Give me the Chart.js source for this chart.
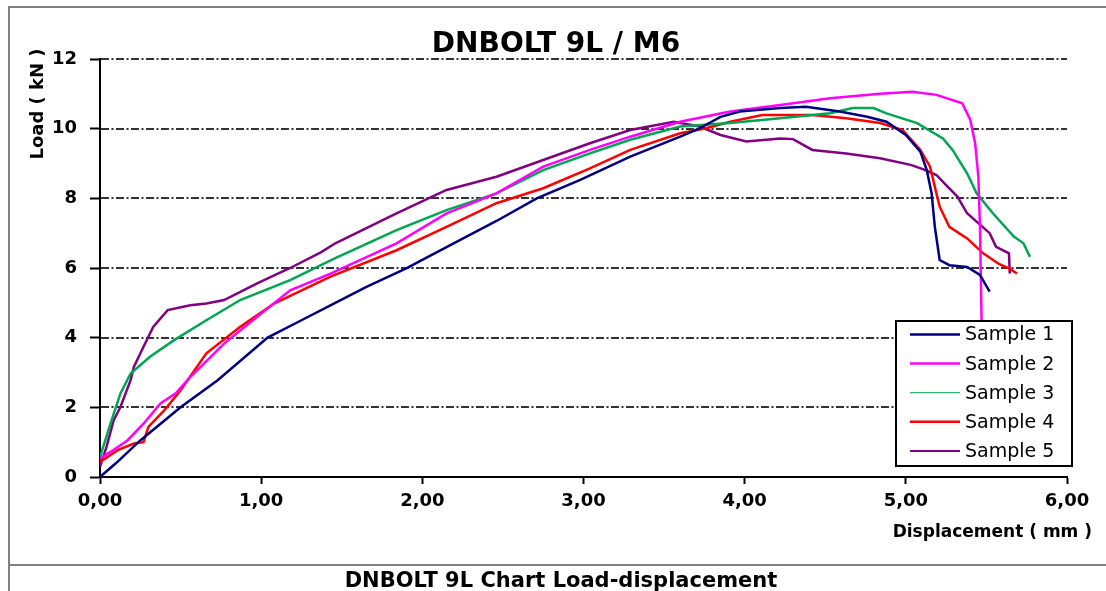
<!DOCTYPE html>
<html>
<head>
<meta charset="utf-8">
<script src="https://cdn.jsdelivr.net/npm/chart.js@4.4.0/dist/chart.umd.min.js"></script>
<style>
  html, body { margin: 0; padding: 0; background: #fff; }
  #wrap { position: relative; width: 1106px; height: 591px; overflow: hidden; }
  .frame { position: absolute; background: #808080; }
  #caption { position: absolute; left: 0; width: 1122px; top: 568px; line-height: 24px;
             text-align: center; font: bold 21px "DejaVu Sans"; color: #000; }
  canvas { position: absolute; left: 0; top: 0; }
</style>
</head>
<body>
<div id="wrap">
  <div class="frame" style="left:8px;top:6px;width:1098px;height:2px"></div>
  <div class="frame" style="left:8px;top:6px;width:2px;height:585px"></div>
  <div class="frame" style="left:8px;top:564px;width:1098px;height:2px"></div>
  <canvas id="chart" width="1106" height="591"></canvas>
  <div id="caption">DNBOLT 9L Chart Load-displacement</div>
</div>
<script>
// valori: spostamento (mm) e carico (kN)
const chartTitle = 'DNBOLT 9L / M6';
const xTitle = 'Displacement ( mm )';
const yTitle = 'Load ( kN )';
const sampleNames = ['Sample 1', 'Sample 2', 'Sample 3', 'Sample 4', 'Sample 5'];

const s1X = [0, 0.10, 0.25, 0.50, 0.73, 1.04, 1.25, 1.43, 1.65, 1.90, 2.15, 2.46, 2.71, 2.98, 3.29, 3.60, 3.72, 3.85, 3.97, 4.22, 4.38, 4.59, 4.76, 4.88, 5.00, 5.09, 5.13, 5.16, 5.18, 5.21, 5.27, 5.38, 5.46, 5.52];
const s1Y = [0, 0.40, 1.05, 2.00, 2.78, 4.00, 4.50, 4.93, 5.45, 5.99, 6.60, 7.35, 8.00, 8.53, 9.20, 9.77, 10.01, 10.34, 10.49, 10.59, 10.63, 10.49, 10.34, 10.20, 9.82, 9.34, 8.81, 8.14, 7.18, 6.23, 6.08, 6.03, 5.80, 5.32];

const s2X = [0, 0.065, 0.17, 0.27, 0.375, 0.47, 0.56, 0.77, 0.975, 1.18, 1.43, 1.84, 2.15, 2.46, 2.75, 3.04, 3.29, 3.60, 3.91, 4.22, 4.53, 4.84, 5.04, 5.19, 5.35, 5.40, 5.43, 5.45, 5.46, 5.47];
const s2Y = [0.53, 0.72, 1.05, 1.53, 2.11, 2.40, 2.87, 3.83, 4.60, 5.36, 5.84, 6.71, 7.57, 8.14, 8.91, 9.39, 9.77, 10.20, 10.49, 10.68, 10.87, 11.00, 11.06, 10.97, 10.73, 10.25, 9.58, 8.62, 7.18, 4.50];

const s3X = [0, 0.065, 0.127, 0.19, 0.31, 0.46, 0.66, 0.87, 1.18, 1.46, 1.84, 2.15, 2.46, 2.75, 3.04, 3.29, 3.60, 3.91, 4.22, 4.53, 4.67, 4.80, 4.88, 5.07, 5.23, 5.29, 5.38, 5.44, 5.54, 5.67, 5.73, 5.77];
const s3Y = [0.57, 1.53, 2.40, 2.97, 3.45, 3.93, 4.50, 5.08, 5.65, 6.28, 7.09, 7.66, 8.14, 8.81, 9.29, 9.68, 10.06, 10.16, 10.30, 10.44, 10.59, 10.59, 10.44, 10.16, 9.72, 9.39, 8.72, 8.14, 7.57, 6.90, 6.71, 6.32];

const s4X = [0, 0.11, 0.21, 0.27, 0.30, 0.40, 0.50, 0.66, 0.87, 1.08, 1.43, 1.84, 2.15, 2.46, 2.75, 3.04, 3.29, 3.60, 3.76, 3.91, 4.11, 4.42, 4.63, 4.84, 4.98, 5.09, 5.15, 5.18, 5.21, 5.27, 5.38, 5.48, 5.58, 5.64, 5.69];
const s4Y = [0.43, 0.77, 0.96, 1.00, 1.44, 1.92, 2.49, 3.55, 4.31, 4.98, 5.75, 6.51, 7.18, 7.86, 8.29, 8.86, 9.39, 9.87, 10.01, 10.20, 10.39, 10.39, 10.30, 10.16, 9.96, 9.39, 8.91, 8.33, 7.76, 7.18, 6.85, 6.42, 6.11, 5.99, 5.84];

const s5X = [0, 0.04, 0.085, 0.127, 0.19, 0.21, 0.27, 0.33, 0.42, 0.56, 0.66, 0.77, 0.975, 1.18, 1.37, 1.46, 1.84, 2.15, 2.46, 2.75, 3.04, 3.29, 3.56, 3.72, 3.85, 4.01, 4.22, 4.30, 4.42, 4.63, 4.84, 5.03, 5.11, 5.19, 5.25, 5.32, 5.38, 5.52, 5.56, 5.64, 5.645];
const s5Y = [0.29, 0.86, 1.63, 2.01, 2.78, 3.16, 3.74, 4.31, 4.79, 4.93, 4.98, 5.08, 5.56, 6.00, 6.45, 6.71, 7.57, 8.24, 8.62, 9.10, 9.58, 9.96, 10.20, 10.06, 9.82, 9.63, 9.72, 9.70, 9.39, 9.29, 9.15, 8.96, 8.83, 8.67, 8.38, 8.05, 7.57, 7.00, 6.61, 6.42, 5.84];

const seriesX = [s1X, s2X, s3X, s4X, s5X];
const seriesY = [s1Y, s2Y, s3Y, s4Y, s5Y];

const colors = ['#000080', '#ff00ff', '#00a651', '#ff0000', '#800080'];
const legendLineWidths = [2.5, 2.5, 1, 2.5, 2];
const FONT = '"DejaVu Sans", sans-serif';

const datasets = sampleNames.map((name, i) => ({
    label: name,
    data: seriesX[i].map((x, j) => ({ x: x, y: seriesY[i][j] })),
    borderColor: colors[i],
    backgroundColor: colors[i],
    borderWidth: 2.5,
    pointRadius: 0,
    fill: false,
    tension: 0
}));

// griglia tratto-punto, titoli e legenda disegnati a mano
const decor = {
    id: 'decor',
    beforeDatasetsDraw(chart) {
        const { ctx, chartArea, scales } = chart;
        ctx.save();
        ctx.strokeStyle = '#333';
        ctx.lineWidth = 2;
        ctx.setLineDash([8, 2.5, 2, 2.5]);
        scales.y.ticks.forEach(t => {
            if (t.value <= 0) return;
            const py = Math.round(scales.y.getPixelForValue(t.value));
            ctx.beginPath();
            ctx.moveTo(chartArea.left + 1, py);
            ctx.lineTo(chartArea.right, py);
            ctx.stroke();
        });
        ctx.restore();
    },
    afterDatasetsDraw(chart) {
        const ctx = chart.ctx;
        ctx.save();
        // legenda
        const bx = 896, by = 321, bw = 176, bh = 145;
        ctx.fillStyle = '#fff';
        ctx.fillRect(bx, by, bw, bh);
        ctx.strokeStyle = '#000';
        ctx.lineWidth = 2;
        ctx.strokeRect(bx, by, bw, bh);
        ctx.font = '19px ' + FONT;
        ctx.textBaseline = 'middle';
        ctx.textAlign = 'left';
        chart.data.datasets.forEach((ds, i) => {
            const ly = 334.5 + i * 29.1;
            ctx.strokeStyle = ds.borderColor;
            ctx.lineWidth = legendLineWidths[i];
            ctx.beginPath();
            ctx.moveTo(910, ly);
            ctx.lineTo(960, ly);
            ctx.stroke();
            ctx.fillStyle = '#000';
            ctx.fillText(ds.label, 965, ly + 1);
        });

        // titoli
        ctx.fillStyle = '#000';
        ctx.textAlign = 'center';
        ctx.textBaseline = 'alphabetic';
        ctx.font = 'bold 28px ' + FONT;
        ctx.fillText(chartTitle, 556, 52);

        ctx.textAlign = 'right';
        ctx.font = 'bold 17px ' + FONT;
        ctx.fillText(xTitle, 1092, 537);

        ctx.translate(38, 104);
        ctx.rotate(-Math.PI / 2);
        ctx.textAlign = 'center';
        ctx.textBaseline = 'middle';
        ctx.font = 'bold 18px ' + FONT;
        ctx.fillText(yTitle, 0, 0);
        ctx.restore();
    }
};

new Chart(document.getElementById('chart').getContext('2d'), {
    type: 'line',
    data: { datasets: datasets },
    options: {
        responsive: false,
        animation: false,
        devicePixelRatio: 1,
        layout: { padding: { left: 0, right: 39, top: 59, bottom: 0 } },
        plugins: { legend: { display: false }, tooltip: { enabled: false } },
        scales: {
            x: {
                type: 'linear',
                min: 0, max: 6,
                ticks: {
                    stepSize: 1,
                    color: '#000',
                    padding: 7,
                    font: { family: FONT, size: 18, weight: 'bold' },
                    callback: v => v.toFixed(2).replace('.', ',')
                },
                grid: { drawOnChartArea: false, drawTicks: true, tickLength: 7, tickColor: '#000', tickWidth: 2 },
                border: { color: '#000', width: 2 },
                afterFit(scale) { scale.height = 114; }
            },
            y: {
                min: 0, max: 12,
                ticks: {
                    stepSize: 2,
                    color: '#000',
                    padding: 13,
                    font: { family: FONT, size: 18, weight: 'bold' }
                },
                grid: { drawOnChartArea: false, drawTicks: true, tickLength: 10, tickColor: '#000', tickWidth: 2 },
                border: { color: '#000', width: 2 },
                afterFit(scale) { scale.width = 100; }
            }
        }
    },
    plugins: [decor]
});
</script>
</body>
</html>
